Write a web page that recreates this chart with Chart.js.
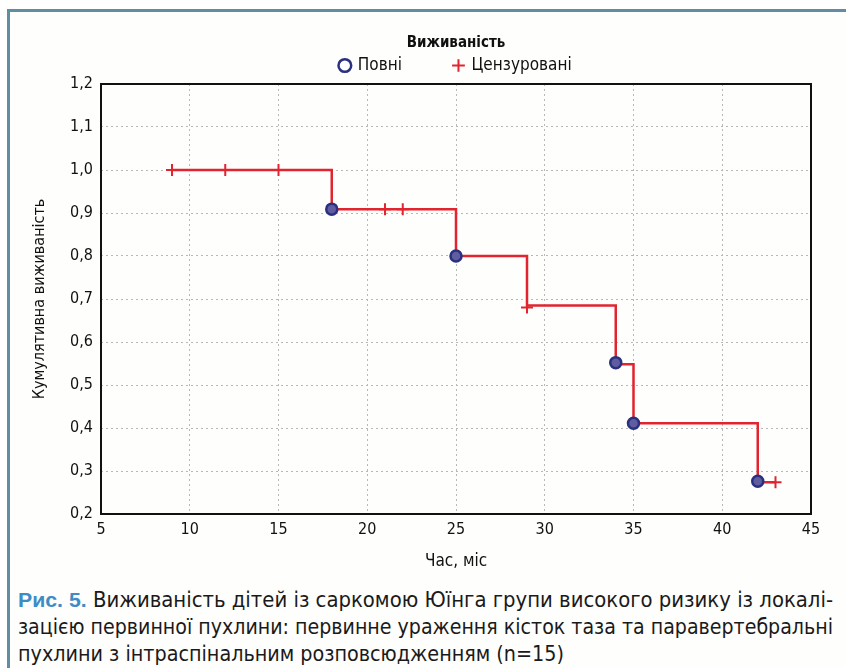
<!DOCTYPE html>
<html>
<head>
<meta charset="utf-8">
<script src="https://cdn.jsdelivr.net/npm/chart.js@4.4.1/dist/chart.umd.min.js"></script>
<style>
  html, body { margin: 0; padding: 0; background: #ffffff; }
  #frame {
    position: absolute; left: 7px; top: 9px; width: 846px; height: 680px;
    border-top: 3px solid #5f8ea3; border-left: 3px solid #5f8ea3;
    background: #fefefc;
  }
  #wrap { position: absolute; left: 0; top: 0; width: 846px; height: 580px; }
  #caption {
    position: absolute; left: 18px; top: 586px; width: 826px;
    font-family: "DejaVu Sans Condensed", sans-serif;
    font-size: 21.6px; line-height: 27px; color: #1a1a1a; white-space: nowrap;
  }
  #caption span.ln { display: inline-block; transform-origin: 0 50%; }
  #caption b { color: #3d8cc6; font-family: "Liberation Sans", Arial, sans-serif; font-size: 21px; }
</style>
</head>
<body>
<div id="frame"></div>
<div id="wrap"><canvas id="kmChart" width="846" height="580"></canvas></div>
<div id="caption"><span class="ln" data-w="815"><b>Рис. 5.</b> Виживаність дітей із саркомою Юїнга групи високого ризику із локалі-</span><br><span class="ln" data-w="815">зацією первинної пухлини: первинне ураження кісток таза та паравертебральні</span><br><span class="ln" data-w="546">пухлини з інтраспінальним розповсюдженням (n=15)</span></div>
<script>
// Крива Каплана-Мейєра
var stepX = [9, 18, 25, 29, 34, 35, 42, 43];
var stepY = [1.0, 0.909, 0.8, 0.685, 0.548, 0.411, 0.274, 0.274];

// Повні (події)
var eventX = [18, 25, 34, 35, 42];
var eventY = [0.909, 0.8, 0.552, 0.411, 0.276];

// Цензуровані
var censX = [9, 12, 15, 21, 22, 29, 43];
var censY = [1.0, 1.0, 1.0, 0.909, 0.909, 0.68, 0.274];

var xTicks = [5, 10, 15, 20, 25, 30, 35, 40, 45];
var yTicks = [0.2, 0.3, 0.4, 0.5, 0.6, 0.7, 0.8, 0.9, 1.0, 1.1, 1.2];

function pts(xs, ys) {
  return xs.map(function (x, i) { return { x: x, y: ys[i] }; });
}

// підпис: кожен рядок підганяємо під ширину
document.querySelectorAll('#caption span.ln').forEach(function (el) {
  var w = el.getBoundingClientRect().width;
  el.style.transform = 'scaleX(' + (el.dataset.w / w) + ')';
});

var font = '"DejaVu Sans Condensed", sans-serif';
var red = '#e1242f';
var blue = '#2a3080';

// рамка навколо області графіка + легенда над областю графіка
var boxPlugin = {
  id: 'box',
  afterLayout: function (chart) {
    var lg = chart.legend, a = chart.chartArea;
    lg.left = a.left;
    lg.right = a.right;
    lg.width = a.right - a.left;
  },
  afterDraw: function (chart) {
    var a = chart.chartArea, ctx = chart.ctx;
    ctx.save();
    ctx.strokeStyle = '#111';
    ctx.lineWidth = 2;
    ctx.strokeRect(a.left, a.top, a.right - a.left, a.bottom - a.top);
    ctx.restore();
  }
};

var kmConfig = {
  type: 'scatter',
  data: {
    datasets: [{
      label: 'line',
      type: 'line',
      data: pts(stepX, stepY),
      stepped: true,
      borderColor: red,
      borderWidth: 2.5,
      pointRadius: 0,
      fill: false,
      order: 3
    }, {
      label: 'Повні',
      data: pts(eventX, eventY),
      pointStyle: 'circle',
      pointRadius: 5.5,
      borderColor: blue,
      backgroundColor: '#5f5ca0',
      borderWidth: 2.5,
      order: 1
    }, {
      label: 'Цензуровані',
      data: pts(censX, censY),
      pointStyle: 'cross',
      pointRadius: 6,
      borderColor: red,
      backgroundColor: red,
      borderWidth: 2,
      order: 2
    }]
  },
  options: {
    responsive: false,
    animation: false,
    layout: { padding: { left: 10, right: 35, top: 35, bottom: 0 } },
    plugins: {
      legend: {
        position: 'top',
        title: {
          display: true,
          text: 'Виживаність',
          color: '#111',
          font: { family: font, size: 15, weight: 'bold' },
          padding: { top: 1, bottom: -49 }
        },
        labels: {
          usePointStyle: true,
          boxWidth: 9,
          boxHeight: 9,
          padding: 52,
          color: '#111',
          font: { family: font, size: 17 },
          filter: function (item) { return item.text !== 'line'; },
          generateLabels: function (chart) {
            var items = Chart.defaults.plugins.legend.labels.generateLabels(chart);
            items.forEach(function (it) {
              if (it.pointStyle === 'circle') { it.fillStyle = '#ffffff'; it.lineWidth = 2.5; }
            });
            return items;
          }
        }
      },
      tooltip: { enabled: false }
    },
    scales: {
      x: {
        type: 'linear',
        min: 5,
        max: 45,
        afterBuildTicks: function (s) { s.ticks = xTicks.map(function (v) { return { value: v }; }); },
        afterFit: function (s) { s.height = 66; },
        ticks: { color: '#111', font: { family: font, size: 16 }, padding: 6 },
        grid: { color: '#b8b8b8', drawTicks: false },
        border: { display: false, dash: [2, 3] },
        title: { display: true, text: 'Час, міс', color: '#111', font: { family: font, size: 17 }, padding: { top: 0, bottom: 8 } }
      },
      y: {
        type: 'linear',
        min: 0.2,
        max: 1.2,
        afterBuildTicks: function (s) { s.ticks = yTicks.map(function (v) { return { value: v }; }); },
        afterFit: function (s) { s.width = 91; },
        ticks: {
          color: '#111',
          font: { family: font, size: 16 },
          padding: 8,
          callback: function (v) { return v.toFixed(1).replace('.', ','); }
        },
        grid: { color: '#b8b8b8', drawTicks: false },
        border: { display: false, dash: [2, 3] },
        title: { display: true, text: 'Кумулятивна виживаність', color: '#111', font: { family: font, size: 16 }, padding: { top: 20, bottom: 0 } }
      }
    }
  },
  plugins: [boxPlugin]
};

var kmChart = new Chart(document.getElementById('kmChart'), kmConfig);
</script>
</body>
</html>
